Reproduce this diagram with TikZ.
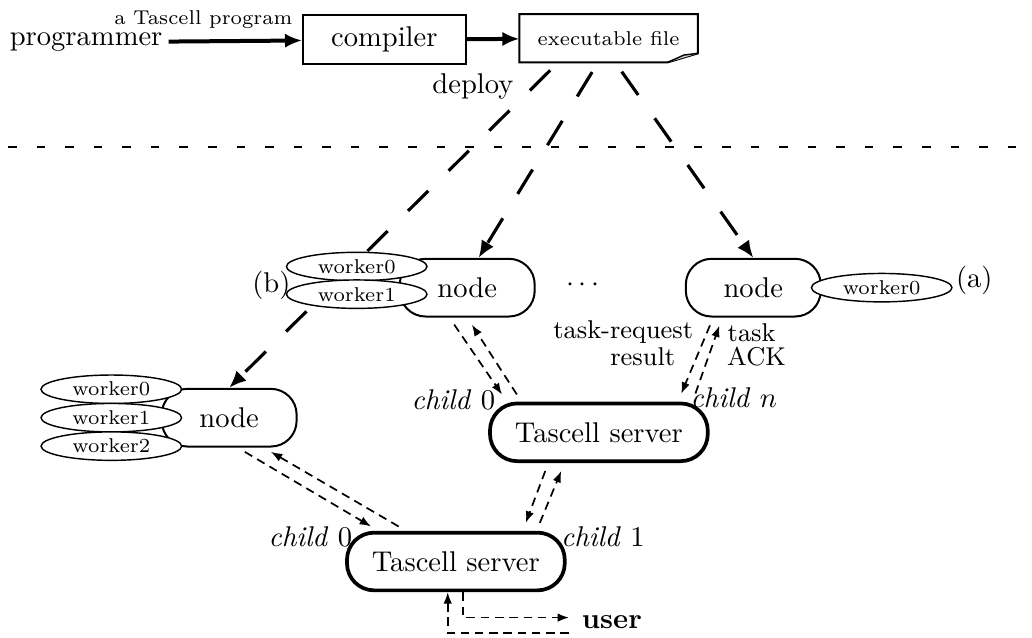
\documentclass[tikz,border=0pt]{standalone}
\usepackage{amsmath}
\usepackage{tikz}
\usetikzlibrary{shapes.geometric,arrows.meta}

\begin{document}
\begin{tikzpicture}[
  cbox/.style={draw, line width=0.7pt, minimum width=2.0cm, minimum height=0.6cm},
  pcnode/.style={draw, fill=white, line width=0.7pt, rounded corners=9pt,
    minimum width=1.66cm, minimum height=0.71cm},
  server/.style={draw, fill=white, line width=1.3pt, rounded corners=9.5pt,
    minimum width=2.68cm, minimum height=0.71cm},
  worker/.style={ellipse, draw, fill=white, line width=0.5pt, inner sep=0pt,
    minimum width=1.73cm, minimum height=0.35cm, font=\scriptsize},
  lab/.style={font=\scriptsize},
  msg/.style={font=\small},
  flow/.style={-{Latex[length=6pt,width=5pt]}, line width=1.4pt},
  deploy/.style={-{Latex[length=6pt,width=5pt]}, line width=1.1pt,
    dash pattern=on 10pt off 10pt, shorten <=4pt},
  comm/.style={-{Latex[length=4pt,width=3pt]}, line width=0.6pt,
    dash pattern=on 3pt off 2pt, shorten <=3pt, shorten >=3pt}]
\useasboundingbox (0,0) rectangle (12.70,7.84);

\node[inner sep=2pt] (prog) at (1.06,7.32) {programmer};
\node[cbox] (comp) at (4.73,7.35) {compiler};
\node[minimum width=2.18cm, minimum height=0.58cm, font=\scriptsize] (file)
  at (7.49,7.37) {executable file};
\draw[line width=0.7pt] (file.north west) -- (file.north east)
  -- ([yshift=0.11cm]file.south east) -- ([xshift=-0.37cm]file.south east)
  -- (file.south west) -- cycle;
\draw[line width=0.5pt, fill=gray!35] ([xshift=-0.37cm]file.south east)
  -- ([xshift=-0.17cm,yshift=0.09cm]file.south east)
  -- ([yshift=0.11cm]file.south east);
\draw[flow] (prog) -- (comp)
  node[lab, pos=0.26, above=0.5pt] (tprog) {a Tascell program};
\draw[flow] (comp) -- (file);
\node (dep) at (5.82,6.77) {deploy};
\draw[line width=0.6pt, dash pattern=on 3pt off 7pt] (0.1,6.03) -- (12.70,6.03);

\node[pcnode] (mnode) at (5.75,4.30) {node};
\node[pcnode] (rnode) at (9.27,4.30) {node};
\node[pcnode] (lnode) at (2.82,2.70) {node};
\node[server] (mserv) at (7.37,2.52) {Tascell server};
\node[server] (bserv) at (5.61,0.93) {Tascell server};

\draw[deploy] ([xshift=-0.62cm]file.south) -- (lnode.north);
\draw[deploy] ([xshift=-0.13cm]file.south) -- ([xshift=0.14cm]mnode.north);
\draw[deploy] ([xshift=0.08cm]file.south) -- (rnode.north);

\node[worker] (mw0) at (4.39,4.56) {worker0};
\node[worker] (mw1) at (4.39,4.22) {worker1};
\node[worker] (rw0) at (10.85,4.30) {worker0};
\node[worker] (lw0) at (1.37,3.05) {worker0};
\node[worker] (lw1) at (1.37,2.70) {worker1};
\node[worker] (lw2) at (1.37,2.35) {worker2};
\node (la) at (11.99,4.39) {(a)};
\node (lb) at (3.34,4.33) {(b)};
\node (dots) at (7.20,4.33) {$\cdots$};

\draw[comm] ([xshift=-0.22cm]mnode.south) -- ([xshift=0.23cm]mserv.north west);
\draw[comm] ([xshift=0.41cm]mserv.north west) -- (mnode.south);
\draw[comm] ([xshift=0.35cm]rnode.south west) -- ([xshift=-0.39cm]mserv.north east);
\draw[comm] ([xshift=-0.21cm]mserv.north east) -- ([xshift=0.46cm]rnode.south west);
\draw[comm] ([xshift=-0.74cm]lnode.south east) -- ([xshift=0.41cm]bserv.north west);
\draw[comm] ([xshift=0.75cm]bserv.north west) -- ([xshift=-0.42cm]lnode.south east);
\draw[comm] ([xshift=0.74cm]mserv.south west) -- ([xshift=-0.54cm]bserv.north east);
\draw[comm] ([xshift=-0.37cm]bserv.north east) -- ([xshift=0.94cm]mserv.south west);

\node[msg] (treq) at (7.67,3.75) {task-request};
\node[msg] (res) at (7.91,3.45) {result};
\node[msg] (tsk) at (9.25,3.75) {task};
\node[msg] (ack) at (9.31,3.45) {ACK};
\node (c0m) at (5.58,2.92) {\textit{child} 0};
\node (cnm) at (9.03,2.94) {\textit{child} $n$};
\node (c0b) at (3.82,1.23) {\textit{child} 0};
\node (c1b) at (7.42,1.23) {\textit{child} 1};

\node[font=\bfseries] (user) at (7.53,0.19) {user};
\draw[comm, shorten <=0pt, shorten >=1pt] ([xshift=0.09cm]bserv.south)
  |- ([yshift=0.05cm]user.west);
\draw[comm, shorten <=1pt, shorten >=0pt] ([yshift=-0.14cm]user.west)
  -| ([xshift=-0.1cm]bserv.south);
\end{tikzpicture}
\end{document}
